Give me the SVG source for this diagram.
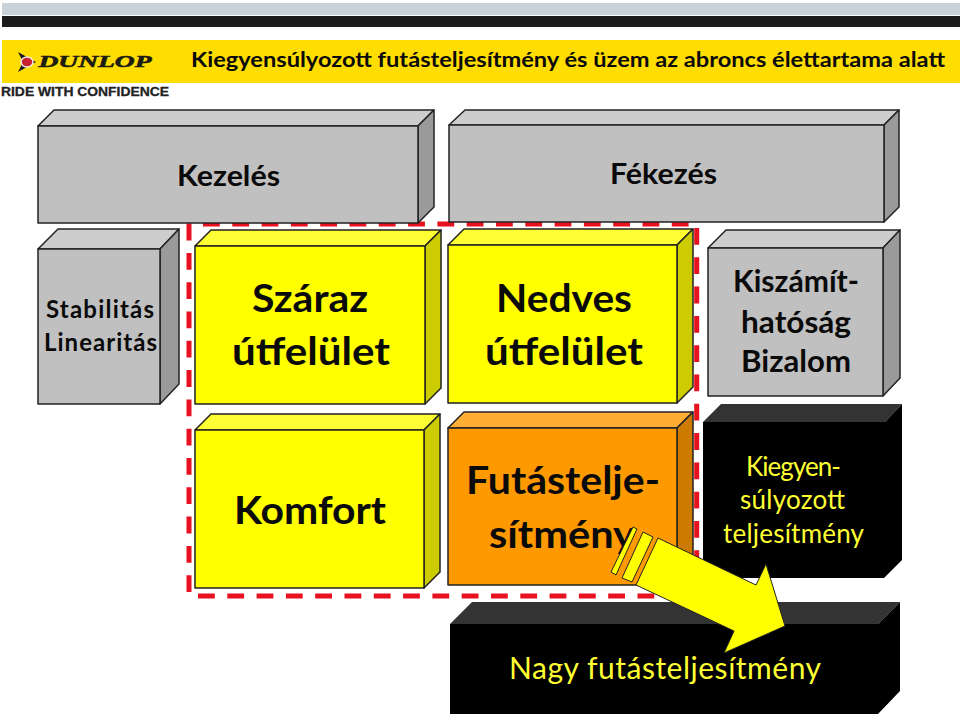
<svg xmlns="http://www.w3.org/2000/svg" width="960" height="716" viewBox="0 0 960 716">
<style>
text{font-family:"Lato","Carlito","Open Sans",sans-serif;text-anchor:middle;font-weight:700;fill:#0a0a0a}
.e{stroke:#222;stroke-width:1.5;stroke-linejoin:round}
.g .f{fill:#c0c0c0}.g .t{fill:#cdcdcd}.g .s{fill:#9a9a9a}
.y .f{fill:#ffff00}.y .t{fill:#ffff33}.y .s{fill:#cccc00}
.o .f{fill:#ff9900}.o .t{fill:#ffad33}.o .s{fill:#cc7a00}
.k .t{fill:#333}
.k text{fill:#ffff33;font-weight:400}
.d{stroke:#e8111f;stroke-width:5;stroke-dasharray:16.8 12.5;fill:none}
</style>
<rect width="960" height="716" fill="#fff"/>
<g id="header">
<rect x="2" y="3" width="958" height="12" fill="#c8d2d8"/>
<rect x="2" y="16" width="958" height="11" fill="#1c1c1c"/>
<rect x="2" y="40" width="958" height="43" fill="#ffdd00"/>
<path d="M18 52L36 62L18 72L23 62Z" fill="#1c1c1c"/>
<ellipse cx="27" cy="62" rx="6" ry="5" fill="#c8202c" stroke="#eee" stroke-width="1.5"/>
<text x="95" y="67" style="font-family:'Liberation Serif',serif;font-style:italic;font-weight:700;font-size:17px;fill:#1c1c10;stroke:#1c1c10;stroke-width:.6" textLength="113" lengthAdjust="spacingAndGlyphs">DUNLOP</text>
<text x="85" y="96" style="font-family:'Liberation Sans',sans-serif;font-weight:700;font-size:13px;fill:#222;stroke:#222;stroke-width:.3" textLength="168" lengthAdjust="spacingAndGlyphs">RIDE WITH CONFIDENCE</text>
<text x="568" y="67" style="font-size:21px" textLength="754" lengthAdjust="spacingAndGlyphs">Kiegyensúlyozott futásteljesítmény és üzem az abroncs élettartama alatt</text>
</g>
<g id="dashed-frame">
<path class="d" d="M189 592V222"/>
<path class="d" d="M203 224H690"/>
<path class="d" d="M696.7 228V590"/>
<path class="d" d="M198 596H690"/>
</g>
<g id="kezeles" class="g">
<path class="e t" d="M38 126L54 110H434L418 126Z"/><path class="e s" d="M418 126L434 110V207L418 223Z"/><rect class="e f" x="38" y="126" width="380" height="97"/>
<text x="228.500" y="186" style="font-size:29px" textLength="103" lengthAdjust="spacingAndGlyphs">Kezelés</text></g>
<g id="fekezes" class="g">
<path class="e t" d="M449 125L465 110H899L884 125Z"/><path class="e s" d="M884 125L899 110V207L884 222Z"/><rect class="e f" x="449" y="125" width="435" height="97"/>
<text x="663.500" y="184" style="font-size:28px" textLength="107" lengthAdjust="spacingAndGlyphs">Fékezés</text></g>
<g id="stabilitas" class="g">
<path class="e t" d="M38 249L58 229H179L160 249Z"/><path class="e s" d="M160 249L179 229V384L160 404Z"/><rect class="e f" x="38" y="249" width="122" height="155"/>
<text x="100" y="318" style="font-size:24px" textLength="108">Stabilitás</text><text x="100.500" y="351" style="font-size:24px" textLength="113">Linearitás</text></g>
<g id="szaraz" class="y">
<path class="e t" d="M195 246L211 230H441L425 246Z"/><path class="e s" d="M425 246L441 230V388L425 404Z"/><rect class="e f" x="195" y="246" width="230" height="158"/>
<text x="310" y="312" style="font-size:39px" textLength="116" lengthAdjust="spacingAndGlyphs">Száraz</text><text x="311" y="365" style="font-size:39px" textLength="158" lengthAdjust="spacingAndGlyphs">útfelület</text></g>
<g id="nedves" class="y">
<path class="e t" d="M448 245L464 229H693L677 245Z"/><path class="e s" d="M677 245L693 229V387L677 403Z"/><rect class="e f" x="448" y="245" width="229" height="158"/>
<text x="564" y="312" style="font-size:39px" textLength="136" lengthAdjust="spacingAndGlyphs">Nedves</text><text x="564" y="365" style="font-size:39px" textLength="158" lengthAdjust="spacingAndGlyphs">útfelület</text></g>
<g id="kiszamit" class="g">
<path class="e t" d="M708 248L726 230H900L883 248Z"/><path class="e s" d="M883 248L900 230V378L883 396Z"/><rect class="e f" x="708" y="248" width="175" height="148"/>
<text x="796" y="292" style="font-size:30px" textLength="126" lengthAdjust="spacingAndGlyphs">Kiszámít-</text><text x="796" y="333" style="font-size:30px" textLength="110" lengthAdjust="spacingAndGlyphs">hatóság</text><text x="796" y="372" style="font-size:30px" textLength="110" lengthAdjust="spacingAndGlyphs">Bizalom</text></g>
<g id="komfort" class="y">
<path class="e t" d="M195 430L211 414H440L424 430Z"/><path class="e s" d="M424 430L440 414V572L424 588Z"/><rect class="e f" x="195" y="430" width="229" height="158"/>
<text x="310" y="524" style="font-size:39px" textLength="152" lengthAdjust="spacingAndGlyphs">Komfort</text></g>
<g id="futas" class="o">
<path class="e t" d="M448 428L464 412H693L677 428Z"/><path class="e s" d="M677 428L693 412V569L677 585Z"/><rect class="e f" x="448" y="428" width="229" height="157"/>
<text x="563" y="494" style="font-size:39px" textLength="194" lengthAdjust="spacingAndGlyphs">Futástelje-</text><text x="562" y="548" style="font-size:39px" textLength="146" lengthAdjust="spacingAndGlyphs">sítmény</text></g>
<g id="kiegyen" class="k">
<path class="t" d="M703 422L721 404H902L885 422Z"/><path d="M703 422H885L902 404V560L884 578H703Z" fill="#000"/>
<text x="793.500" y="476" style="font-size:26px" textLength="95">Kiegyen-</text><text x="792.500" y="509" style="font-size:26px" textLength="105">súlyozott</text><text x="793.500" y="543" style="font-size:26px" textLength="141">teljesítmény</text></g>
<g id="nagy" class="k">
<path class="t" d="M450 624L472 602H900L878 624Z"/><path d="M450 624H878L900 602V691L878 714H450Z" fill="#000"/>
<text x="665" y="679" style="font-size:30px" textLength="312">Nagy futásteljesítmény</text></g>
<g id="connectors">
<g fill="#ffff00" stroke="#222" stroke-width="1">
<path d="M658 538L756 585L766 564L785 626L724 653L734 631L636 585Z"/>
<path d="M643 532L653 537L632 582L622 578Z"/>
<path d="M633 527L637 529L616 575L611 572Z"/>
</g></g>
</svg>
